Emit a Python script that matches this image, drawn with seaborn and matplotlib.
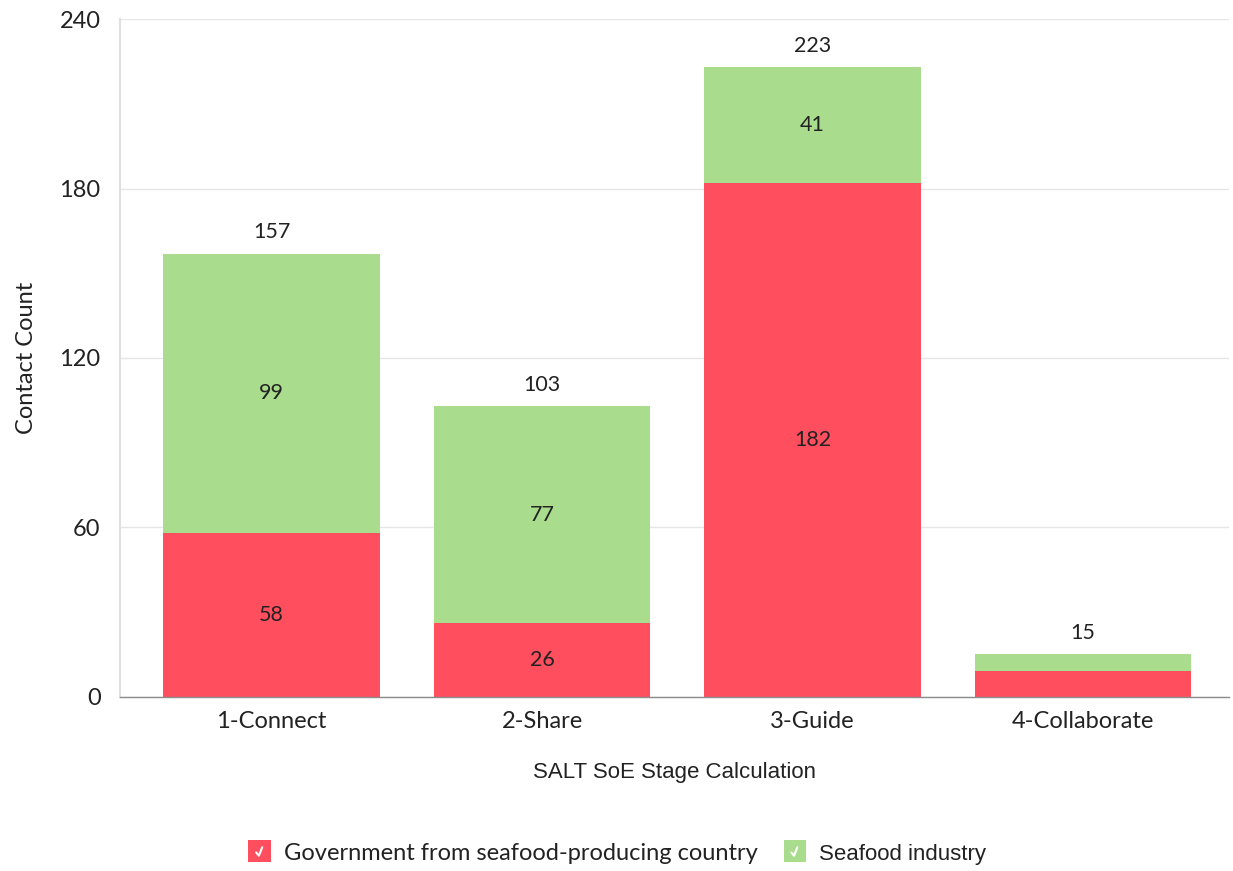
import matplotlib
matplotlib.use("Agg")
import matplotlib.pyplot as plt
import seaborn as sns
import pandas as pd
import numpy as np
from matplotlib.patches import Patch, Rectangle
from matplotlib.legend_handler import HandlerPatch
from matplotlib.lines import Line2D

stages = ["1-Connect", "2-Share", "3-Guide", "4-Collaborate"]
government = [58, 26, 182, 9]
industry = [99, 77, 41, 6]
series_names = ["Government from seafood-producing country", "Seafood industry"]
yticks = [0, 60, 120, 180, 240]

RED = "#FF4F5E"
GREEN = "#A9DC8C"

sns.set_theme(style="white")
plt.rcParams["font.family"] = ["Lato", "DejaVu Sans"]

totals = [g + i for g, i in zip(government, industry)]
df = pd.DataFrame({"stage": stages, "gov": government, "ind": industry, "total": totals})

fig = plt.figure(figsize=(12.33, 8.71), dpi=100)
ax = fig.add_axes([0.0973, 0.2, 0.8997, 0.778])

sns.barplot(data=df, x="stage", y="total", color=GREEN, saturation=1, width=0.8, ax=ax, linewidth=0)
sns.barplot(data=df, x="stage", y="gov", color=RED, saturation=1, width=0.8, ax=ax, linewidth=0)

ax.set_ylim(0, 240)
ax.set_xlim(-0.56, 3.54)
ax.set_yticks(yticks)
ax.set_yticklabels([str(t) for t in yticks], fontsize=17, color="#222222")
ax.tick_params(axis="y", length=0, pad=14)
ax.tick_params(axis="x", length=0, pad=10, labelsize=17, labelcolor="#222222")
ax.yaxis.grid(True, color="#E6E6E6", linewidth=1)
ax.set_axisbelow(True)
for s in ["top", "right"]:
    ax.spines[s].set_visible(False)
ax.spines["left"].set_color("#E0E0E0")
ax.spines["left"].set_linewidth(1.5)
ax.spines["bottom"].set_color("#8C8C8C")
ax.spines["bottom"].set_linewidth(1)

ax.set_ylabel("Contact Count", fontsize=17, color="#222222", labelpad=16)
ax.set_xlabel("SALT SoE Stage Calculation", fontsize=16, color="#222222", labelpad=22,
              family=["Liberation Sans", "DejaVu Sans"])

for i, (g, ind, t) in enumerate(zip(government, industry, totals)):
    if t > 40:
        ax.text(i, g / 2, str(g), ha="center", va="center", fontsize=15.5, color="#222222")
        ax.text(i, g + ind / 2, str(ind), ha="center", va="center", fontsize=15.5, color="#222222")
    ax.text(i, t + 4, str(t), ha="center", va="bottom", fontsize=15.5, color="#222222")


class CheckHandler(HandlerPatch):
    def create_artists(self, legend, orig_handle, xdescent, ydescent, width, height, fontsize, trans):
        s = height * 1.35
        x0 = width / 2 - s / 2 - xdescent
        y0 = height / 2 - s / 2 - ydescent
        r = Rectangle((x0, y0), s, s, facecolor=orig_handle.get_facecolor(), edgecolor="none", transform=trans)
        chk = Line2D([x0 + s * 0.35, x0 + s * 0.47, x0 + s * 0.62],
                     [y0 + s * 0.45, y0 + s * 0.3, y0 + s * 0.68],
                     color="white", linewidth=1.5, transform=trans)
        return [r, chk]


handles = [Patch(facecolor=RED), Patch(facecolor=GREEN)]
leg = fig.legend(handles, series_names, loc="center", bbox_to_anchor=(0.5, 0.02),
                 ncol=2, frameon=False, fontsize=17, handler_map={Patch: CheckHandler()},
                 handlelength=1.1, handletextpad=0.5, columnspacing=1.0)
for txt in leg.get_texts():
    txt.set_color("#222222")
t2 = leg.get_texts()[1]
t2.set_family(["Liberation Sans", "DejaVu Sans"])
t2.set_fontsize(16)

fig.savefig("out.png", dpi=100)
